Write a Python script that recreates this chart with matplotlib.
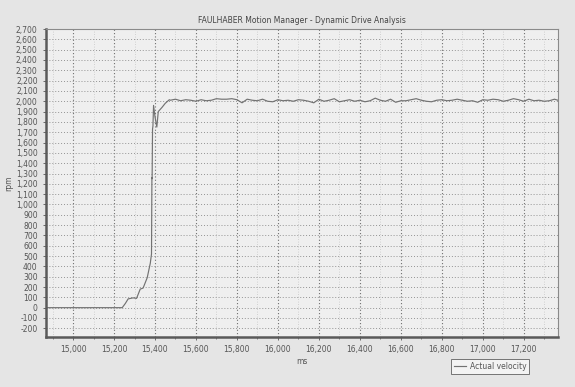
import matplotlib
matplotlib.use("Agg")
import matplotlib.pyplot as plt
from matplotlib.ticker import FuncFormatter, MultipleLocator

# start-up ramp (ms, rpm)
ramp_ms = [14860, 15240, 15255, 15269, 15293, 15310, 15328, 15342, 15362, 15377,
           15383, 15385, 15386, 15388, 15390, 15393, 15400, 15409, 15416, 15425,
           15434, 15450, 15470]
ramp_rpm = [0, 0, 40, 85, 95, 90, 180, 190, 290, 430,
            520, 1260, 1250, 1730, 1760, 1960, 1850, 1750, 1900, 1920,
            1940, 1980, 2015]

# steady running, one reading every 25 ms from 15,475 ms
steady_start = 15475
steady_step = 25
steady_rpm = [
    2010, 2020, 2005, 2015, 2010, 2000, 2015, 2005, 2010, 2025, 2020, 2020, 2025, 2015,
    1985, 2020, 2010, 2005, 2020, 2000, 1995, 2015,
    2005, 2010, 2000, 2015, 2010, 2000, 1985, 2020,
    2000, 2010, 2025, 1995, 2005, 2015, 2000, 2010,
    1995, 2005, 2030, 2010, 2000, 2020, 1990, 2005,
    2005, 2015, 2025, 2010, 2000, 1995, 2010, 2015,
    2005, 2010, 2020, 2010, 2000, 2005, 1990, 2015,
    2010, 2020, 2015, 2000, 2010, 2025, 2015, 2000,
    2020, 2005, 2010, 2000, 2005, 2020, 2005,
]

time_ms = ramp_ms + [steady_start + i * steady_step for i in range(len(steady_rpm))]
velocity_rpm = ramp_rpm + steady_rpm

FIG_BG = "#e5e5e5"
AX_BG = "#efefef"
TEXT = "#555555"

fig = plt.figure(figsize=(5.75, 3.87), dpi=100, facecolor=FIG_BG)
ax = fig.add_axes([0.080, 0.129, 0.890, 0.796])
ax.set_facecolor(AX_BG)

ax.plot(time_ms, velocity_rpm, color="#727272", linewidth=0.85, label="Actual velocity")

ax.set_xlim(14868, 17366)
ax.set_ylim(-285, 2700)

ax.xaxis.set_major_locator(MultipleLocator(200))
ax.xaxis.set_minor_locator(MultipleLocator(100))
ax.yaxis.set_major_locator(MultipleLocator(100))
fmt = FuncFormatter(lambda v, p: f"{int(round(v)):,}")
ax.xaxis.set_major_formatter(fmt)
ax.yaxis.set_major_formatter(fmt)

ax.grid(which="major", axis="x", color="#6e6e6e", linestyle=(0, (1, 2)), linewidth=0.8)
ax.grid(which="minor", axis="x", color="#c6c6c6", linestyle=(0, (1, 2)), linewidth=0.6)
ax.grid(which="major", axis="y", color="#939393", linestyle=(0, (1, 2)), linewidth=0.7)
ax.set_axisbelow(True)

ax.tick_params(axis="both", labelsize=5.5, colors=TEXT, length=2.5, width=0.6)
ax.tick_params(axis="x", which="minor", length=1.5, width=0.5, colors=TEXT)

for side in ("left", "bottom"):
    ax.spines[side].set_color("#5a5a5a")
    ax.spines[side].set_linewidth(1.8)
for side in ("top", "right"):
    ax.spines[side].set_color("#8a8a8a")
    ax.spines[side].set_linewidth(0.8)

ax.set_xlabel("ms", fontsize=5.5, color=TEXT, labelpad=2)
ax.set_ylabel("rpm", fontsize=5.5, color=TEXT, labelpad=2)
ax.set_title("FAULHABER Motion Manager - Dynamic Drive Analysis",
             fontsize=5.5, color="#444444", pad=4)

leg = ax.legend(loc="center", bbox_to_anchor=(0.852, 0.054),
                bbox_transform=fig.transFigure, fontsize=5.5, frameon=True,
                fancybox=False, handlelength=1.6, borderpad=0.4, handletextpad=0.5)
leg.get_frame().set_edgecolor("#555555")
leg.get_frame().set_facecolor("#f7f7f7")
leg.get_frame().set_linewidth(0.7)
for t in leg.get_texts():
    t.set_color(TEXT)

fig.savefig("out.png", dpi=100, facecolor=FIG_BG)
